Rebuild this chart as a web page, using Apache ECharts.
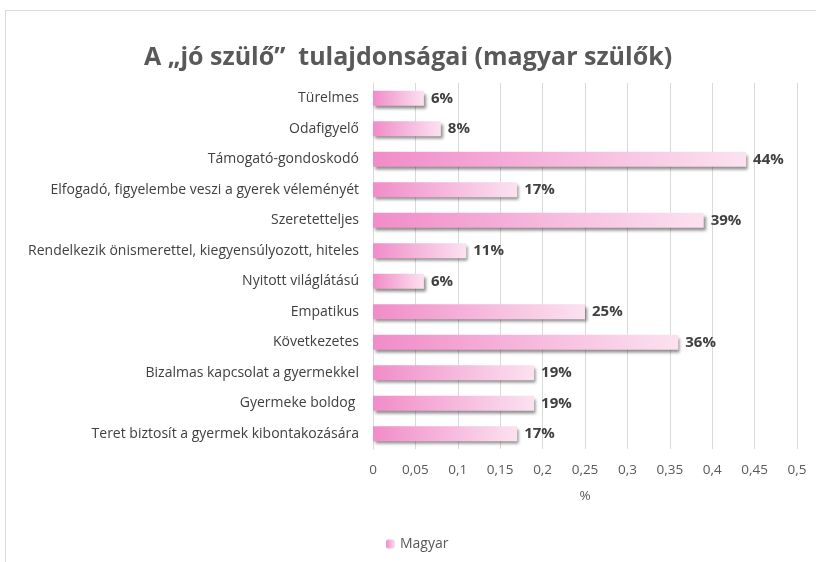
<!DOCTYPE html>
<html>
<head>
<meta charset="utf-8">
<script src="https://cdn.jsdelivr.net/npm/echarts@6/dist/echarts.min.js"></script>
<style>
  html, body { margin: 0; padding: 0; background: #fff; }
  #chart { width: 816px; height: 562px; }
</style>
</head>
<body>
<div id="chart"></div>
<script>
var categories = [
  'Türelmes',
  'Odafigyelő',
  'Támogató-gondoskodó',
  'Elfogadó, figyelembe veszi a gyerek véleményét',
  'Szeretetteljes',
  'Rendelkezik önismerettel, kiegyensúlyozott, hiteles',
  'Nyitott világlátású',
  'Empatikus',
  'Következetes',
  'Bizalmas kapcsolat a gyermekkel',
  'Gyermeke boldog ',
  'Teret biztosít a gyermek kibontakozására'
];
var magyar = [0.06, 0.08, 0.44, 0.17, 0.39, 0.11, 0.06, 0.25, 0.36, 0.19, 0.19, 0.17];
var xTicks = { min: 0, max: 0.5, interval: 0.05 };

var chart = echarts.init(document.getElementById('chart'));

var pinkGrad = new echarts.graphic.LinearGradient(0, 0, 1, 0, [
  { offset: 0, color: '#f18cc8' },
  { offset: 1, color: '#fbe2f0' }
]);

var option = {
  backgroundColor: '#fff',
  textStyle: { fontFamily: '"Open Sans", "Noto Sans", sans-serif' },
  title: {
    text: 'A „jó szülő”  tulajdonságai (magyar szülők)',
    left: 'center',
    top: 40,
    textStyle: {
      fontFamily: '"Open Sans", "Noto Sans", sans-serif',
      fontSize: 25,
      fontWeight: 'bold',
      color: '#595959'
    }
  },
  graphic: [{
    type: 'rect',
    shape: { x: 5.5, y: 10.5, width: 830, height: 570 },
    style: { fill: 'none', stroke: '#d9d9d9', lineWidth: 1 },
    silent: true
  }],
  legend: {
    data: ['Magyar'],
    left: 381,
    top: 532,
    itemWidth: 9,
    itemHeight: 9,
    itemGap: 4,
    textStyle: { color: '#595959', fontSize: 14 }
  },
  grid: { left: 373, right: 19, top: 83, bottom: 113 },
  xAxis: {
    type: 'value',
    min: xTicks.min,
    max: xTicks.max,
    interval: xTicks.interval,
    name: '%',
    nameLocation: 'middle',
    nameGap: 40,
    nameTextStyle: { color: '#595959', fontSize: 13.5 },
    axisLine: { show: false },
    axisTick: { show: false },
    axisLabel: {
      color: '#595959',
      fontSize: 13.5,
      margin: 14,
      formatter: function (v) { return String(+v.toFixed(2)).replace('.', ','); }
    },
    splitLine: { lineStyle: { color: '#d9d9d9' } }
  },
  yAxis: {
    type: 'category',
    inverse: true,
    data: categories,
    axisLine: { show: true, lineStyle: { color: '#d9d9d9' } },
    axisTick: { show: false },
    axisLabel: { color: '#404040', fontSize: 14, margin: 14 }
  },
  series: [{
    name: 'Magyar',
    type: 'bar',
    data: magyar,
    barWidth: 15,
    itemStyle: {
      color: pinkGrad,
      shadowBlur: 3,
      shadowOffsetX: 2,
      shadowOffsetY: 3,
      shadowColor: 'rgba(0,0,0,0.45)'
    },
    label: {
      show: true,
      position: 'right',
      distance: 7,
      color: '#404040',
      fontSize: 15,
      fontWeight: 'bold',
      formatter: function (p) { return Math.round(p.value * 100) + '%'; }
    }
  }]
};

chart.setOption(option);
</script>
</body>
</html>
